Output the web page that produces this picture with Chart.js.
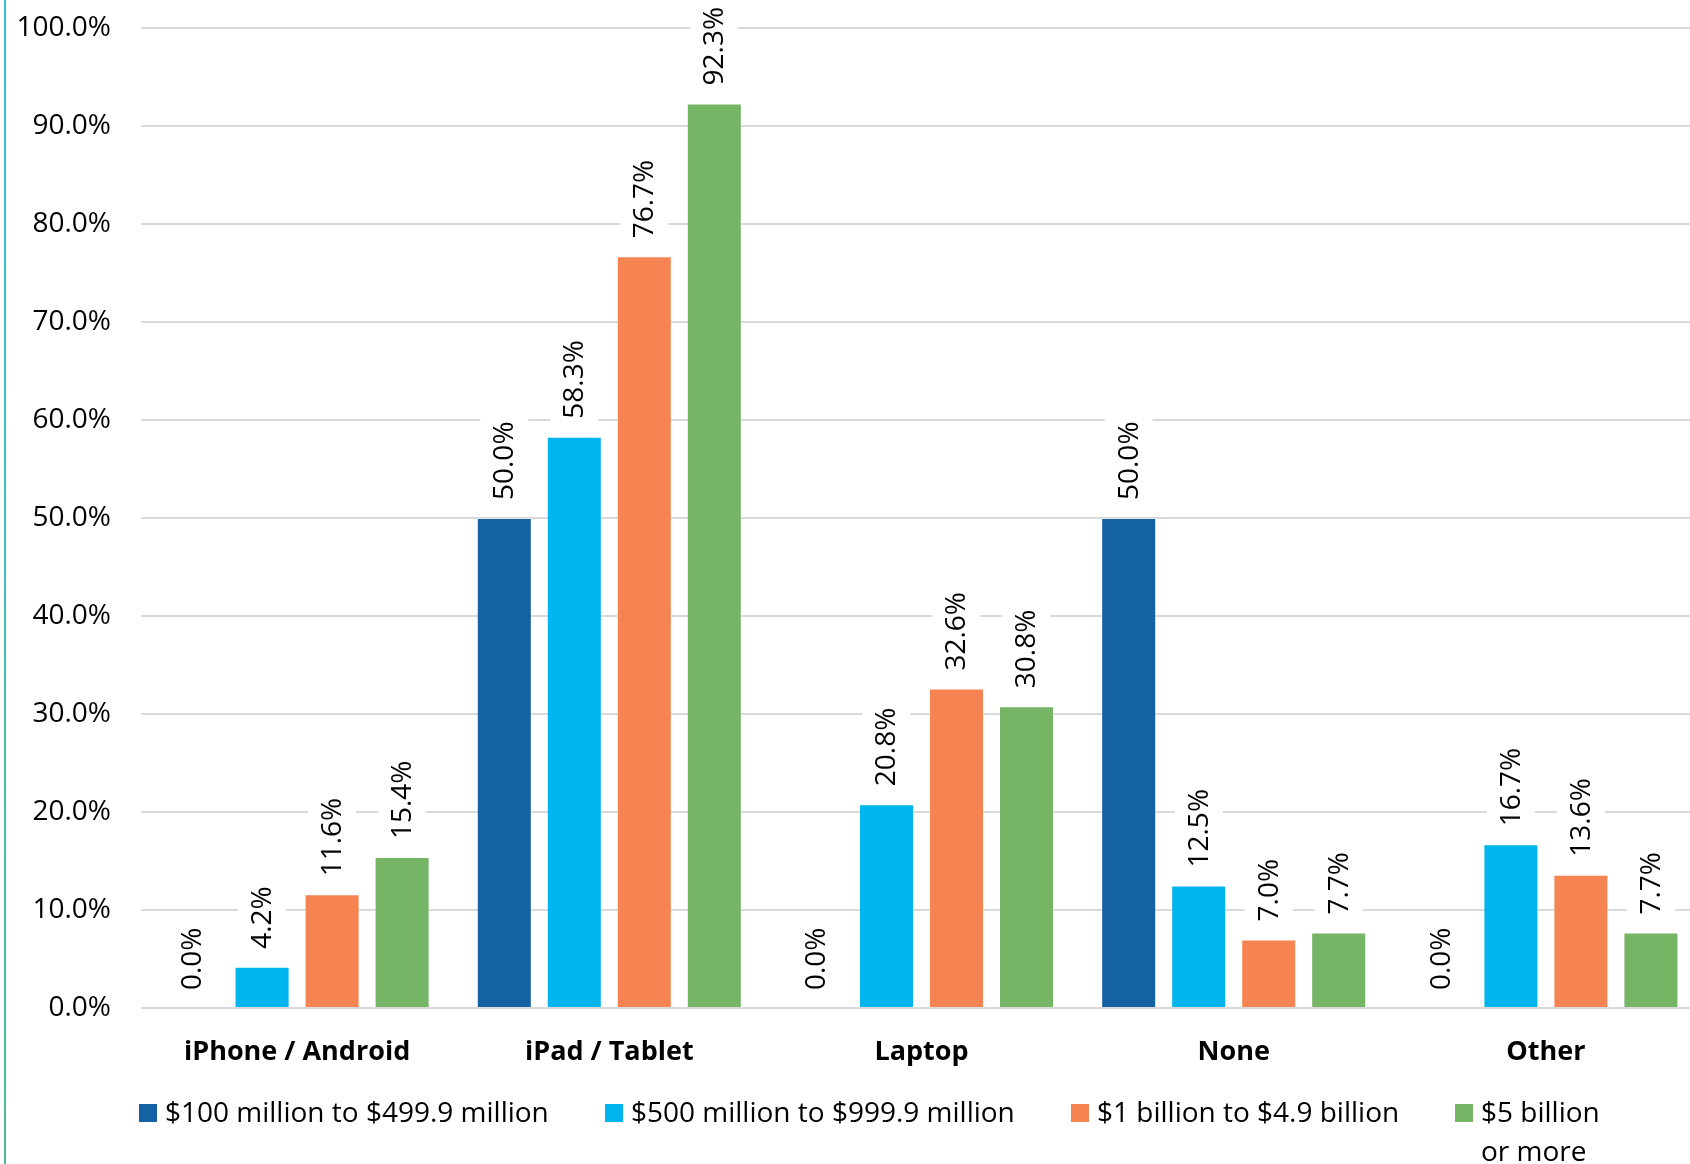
<!DOCTYPE html>
<html>
<head>
<meta charset="utf-8">
<script src="https://cdn.jsdelivr.net/npm/chart.js@4.4.1/dist/chart.umd.min.js"></script>
<style>
html,body{margin:0;padding:0;background:#fff;overflow:hidden;width:1690px;height:1164px;}
#wrap{position:relative;width:1702px;height:1164px;}
</style>
</head>
<body>
<div id="wrap"><canvas id="c" width="1702" height="1164"></canvas></div>
<script>
const categories = ['iPhone / Android', 'iPad / Tablet', 'Laptop', 'None', 'Other'];
const seriesNames = ['$100 million to $499.9 million', '$500 million to $999.9 million', '$1 billion to $4.9 billion', '$5 billion or more'];
const s100m = [0.0, 50.0, 0.0, 50.0, 0.0];
const s500m = [4.2, 58.3, 20.8, 12.5, 16.7];
const s1b = [11.6, 76.7, 32.6, 7.0, 13.6];
const s5b = [15.4, 92.3, 30.8, 7.7, 7.7];
const yTicks = [0, 10, 20, 30, 40, 50, 60, 70, 80, 90, 100];
const colors = ['#1461A3', '#00B4EE', '#F58452', '#75B565'];

const FONT = "'Open Sans', sans-serif";

const dataLabelPlugin = {
  id: 'dataLabels',
  afterDatasetsDraw(chart) {
    const ctx = chart.ctx;
    ctx.save();
    ctx.font = '28px ' + FONT;
    chart.data.datasets.forEach((ds, di) => {
      const meta = chart.getDatasetMeta(di);
      meta.data.forEach((bar, i) => {
        const txt = ds.data[i].toFixed(1) + '%';
        const w = ctx.measureText(txt).width;
        ctx.save();
        ctx.translate(bar.x, bar.y - 18);
        ctx.rotate(-Math.PI / 2);
        ctx.fillStyle = '#ffffff';
        ctx.fillRect(-5, -24, w + 10, 48);
        ctx.fillStyle = '#000000';
        ctx.textAlign = 'left';
        ctx.textBaseline = 'middle';
        ctx.fillText(txt, 0, 1);
        ctx.restore();
      });
    });
    ctx.restore();
  }
};

const legendPlugin = {
  id: 'customLegend',
  afterDraw(chart) {
    const ctx = chart.ctx;
    ctx.save();
    ctx.font = '28px ' + FONT;
    const boxX = [139, 605, 1071, 1455];
    const maxRight = 1620;
    chart.data.datasets.forEach((ds, di) => {
      const bx = boxX[di];
      ctx.fillStyle = ds.backgroundColor;
      ctx.fillRect(bx, 1104, 18, 18);
      ctx.fillStyle = '#000';
      ctx.textAlign = 'left';
      ctx.textBaseline = 'alphabetic';
      const tx = bx + 26;
      const words = ds.label.split(' ');
      let lines = [], cur = '';
      words.forEach(wd => {
        const test = cur ? cur + ' ' + wd : wd;
        if (ctx.measureText(test).width > maxRight - tx && cur) { lines.push(cur); cur = wd; }
        else cur = test;
      });
      lines.push(cur);
      lines.forEach((ln, li) => ctx.fillText(ln, tx, 1122 + li * 39));
    });
    // left accent line
    const g = ctx.createLinearGradient(0, 0, 0, 1164);
    g.addColorStop(0, '#30c4d8');
    g.addColorStop(1, '#47bf93');
    ctx.fillStyle = g;
    ctx.fillRect(4, 0, 2, 1164);
    ctx.restore();
  }
};

const datasets = [s100m, s500m, s1b, s5b].map((d, i) => ({
  label: seriesNames[i],
  data: d,
  backgroundColor: colors[i],
  borderColor: 'rgba(255,255,255,0.35)',
  borderWidth: 1,
  categoryPercentage: 0.897,
  barPercentage: 0.786
}));

new Chart(document.getElementById('c'), {
  type: 'bar',
  data: { labels: categories, datasets },
  plugins: [dataLabelPlugin, legendPlugin],
  options: {
    responsive: false,
    animation: false,
    devicePixelRatio: 1,
    layout: { padding: { top: 28, left: 0, right: 0, bottom: 0 } },
    plugins: { legend: { display: false }, tooltip: { enabled: false } },
    scales: {
      x: {
        grid: { display: false },
        border: { display: false },
        ticks: { color: '#000', font: { family: FONT, size: 27, weight: 'bold' }, padding: 20 },
        afterFit(s) { s.height = 156; s.paddingLeft = 0; s.paddingRight = 0; }
      },
      y: {
        min: 0, max: 100,
        afterBuildTicks(s) { s.ticks = yTicks.map(v => ({ value: v })); },
        grid: { color: '#d9d9d9', lineWidth: 2, drawTicks: false },
        border: { display: false },
        ticks: { color: '#000', font: { family: FONT, size: 28 }, padding: 30,
          callback: v => v.toFixed(1) + '%' },
        afterFit(s) { s.width = 141; s.paddingTop = 0; s.paddingBottom = 0; }
      }
    }
  }
});
</script>
</body>
</html>
